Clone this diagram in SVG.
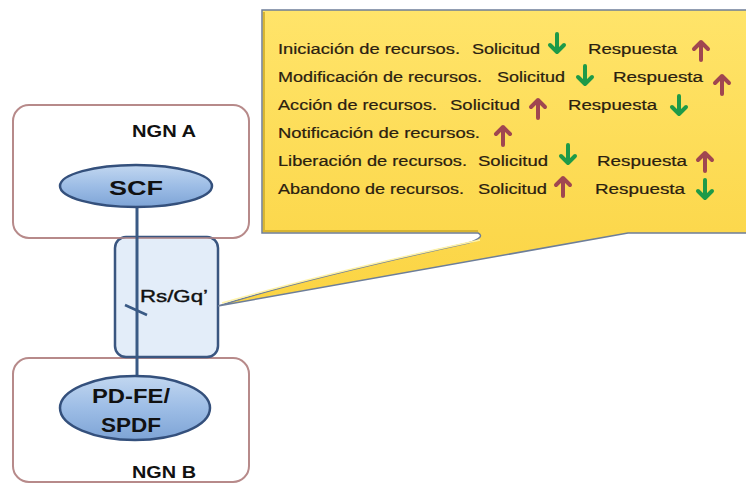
<svg xmlns="http://www.w3.org/2000/svg" width="746" height="484" viewBox="0 0 746 484">
<defs>
<style>
.ngn{fill:#ffffff;stroke:#b78a8a;stroke-width:2}
.ngnt{font-family:"Liberation Sans",Arial,sans-serif;font-weight:bold;font-size:16px;fill:#111}
.ell{fill:url(#eg);stroke:#34507c;stroke-width:2.5}
.ellt{font-family:"Liberation Sans",Arial,sans-serif;font-weight:bold;font-size:20px;fill:#111;text-anchor:middle}
.ct{font-family:"Liberation Sans",Arial,sans-serif;font-size:14px;fill:#2a2010;stroke:#2a2010;stroke-width:0.2}
.dn{stroke:#1e9a48}
.up{stroke:#a04650}
.arr{fill:none;stroke-width:4;stroke-linecap:round;stroke-linejoin:round}
</style>
<linearGradient id="eg" x1="0" y1="0" x2="0" y2="1">
<stop offset="0" stop-color="#c2d7f0"/>
<stop offset="0.5" stop-color="#9dbde6"/>
<stop offset="1" stop-color="#7ea4d6"/>
</linearGradient>
<linearGradient id="yg" x1="0" y1="0" x2="0" y2="1">
<stop offset="0" stop-color="#ffe46a"/>
<stop offset="1" stop-color="#fbd443"/>
</linearGradient>
<g id="adn" class="arr dn"><path d="M0,-9 V9 M-7,2 L0,9 L7,2"/></g>
<g id="aup" class="arr up"><path d="M0,9 V-9 M-7,-2 L0,-9 L7,-2"/></g>
</defs>

<g id="ngn-a">
<rect class="ngn" x="13" y="105" width="236" height="133" rx="16"/>
<text class="ngnt" x="132" y="137" textLength="64" lengthAdjust="spacingAndGlyphs">NGN A</text>
</g>
<g id="ngn-b">
<rect class="ngn" x="13" y="358" width="236" height="124" rx="16"/>
<text class="ngnt" x="132" y="478" textLength="64" lengthAdjust="spacingAndGlyphs">NGN B</text>
</g>
<g id="rs-gq">
<rect x="115" y="237" width="103" height="120" rx="11" fill="#e3edf9" stroke="#3a5680" stroke-width="2.5"/>
<text x="140" y="302" font-family="Liberation Sans,Arial,sans-serif" font-size="17" fill="#111" stroke="#111" stroke-width="0.4" textLength="68" lengthAdjust="spacingAndGlyphs">Rs/Gq’</text>
</g>
<line x1="110" y1="238" x2="223" y2="238" stroke="#b78a8a" stroke-width="1.5"/>
<g id="connectors" stroke="#3a5a85" stroke-width="3" fill="none">
<line x1="137" y1="205" x2="137" y2="376"/>
<line x1="125" y1="305" x2="147" y2="315" stroke-width="2.5"/>
</g>
<g id="scf">
<ellipse class="ell" cx="136" cy="186" rx="76" ry="21"/>
<text class="ellt" x="136" y="195" font-size="21" textLength="54" lengthAdjust="spacingAndGlyphs">SCF</text>
</g>
<g id="pdfe">
<ellipse class="ell" cx="135" cy="408" rx="75" ry="32"/>
<text class="ellt" x="131" y="403" textLength="78" lengthAdjust="spacingAndGlyphs">PD-FE/</text>
<text class="ellt" x="131" y="432" textLength="60" lengthAdjust="spacingAndGlyphs">SPDF</text>
</g>
<g id="callout">
<path d="M262,10 H750 V233 H628 L218,306 Q300,280 468,243 Q486,237 478,233 H262 Z" fill="url(#yg)" stroke="#6d7e99" stroke-width="1.5"/>
<path d="M264,12 V231 H478" fill="none" stroke="#d8b531" stroke-width="2"/>
<path d="M222,303 Q330,272 480,240" fill="none" stroke="#fff3a8" stroke-width="1.5"/>
<text class="ct" y="54"><tspan x="278" textLength="182" lengthAdjust="spacingAndGlyphs">Iniciación de recursos.</tspan><tspan x="472" textLength="68" lengthAdjust="spacingAndGlyphs">Solicitud</tspan><tspan x="588" textLength="89" lengthAdjust="spacingAndGlyphs">Respuesta</tspan></text>
<text class="ct" y="82"><tspan x="278" textLength="204" lengthAdjust="spacingAndGlyphs">Modificación de recursos.</tspan><tspan x="497" textLength="68" lengthAdjust="spacingAndGlyphs">Solicitud</tspan><tspan x="613" textLength="90" lengthAdjust="spacingAndGlyphs">Respuesta</tspan></text>
<text class="ct" y="110"><tspan x="278" textLength="159" lengthAdjust="spacingAndGlyphs">Acción de recursos.</tspan><tspan x="450" textLength="70" lengthAdjust="spacingAndGlyphs">Solicitud</tspan><tspan x="568" textLength="89" lengthAdjust="spacingAndGlyphs">Respuesta</tspan></text>
<text class="ct" y="138"><tspan x="278" textLength="202" lengthAdjust="spacingAndGlyphs">Notificación de recursos.</tspan></text>
<text class="ct" y="166"><tspan x="278" textLength="189" lengthAdjust="spacingAndGlyphs">Liberación de recursos.</tspan><tspan x="478" textLength="70" lengthAdjust="spacingAndGlyphs">Solicitud</tspan><tspan x="597" textLength="90" lengthAdjust="spacingAndGlyphs">Respuesta</tspan></text>
<text class="ct" y="194"><tspan x="278" textLength="186" lengthAdjust="spacingAndGlyphs">Abandono de recursos.</tspan><tspan x="478" textLength="69" lengthAdjust="spacingAndGlyphs">Solicitud</tspan><tspan x="595" textLength="90" lengthAdjust="spacingAndGlyphs">Respuesta</tspan></text>
<use href="#adn" x="557" y="43"/>
<use href="#aup" x="701" y="51"/>
<use href="#adn" x="585" y="75"/>
<use href="#aup" x="722" y="85"/>
<use href="#aup" x="538" y="109"/>
<use href="#adn" x="679" y="105"/>
<use href="#aup" x="503" y="136"/>
<use href="#adn" x="568" y="154"/>
<use href="#aup" x="705" y="162"/>
<use href="#aup" x="563" y="187"/>
<use href="#adn" x="705" y="189"/>
</g>
</svg>
